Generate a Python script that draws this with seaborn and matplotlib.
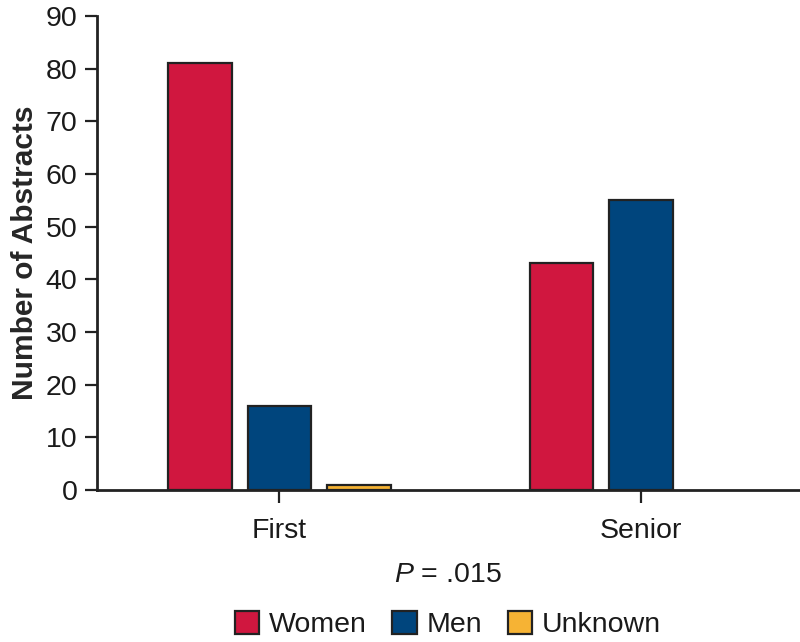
import pandas as pd
import numpy as np
import matplotlib
matplotlib.use('Agg')
import matplotlib.pyplot as plt
import seaborn as sns
from matplotlib.patches import Patch

# author position categories and counts per gender
positions = ['First', 'Senior']
genders = ['Women', 'Men', 'Unknown']
women = [81, 43]
men = [16, 55]
unknown = [1, 0]

colors = ['#D0173F', '#00457D', '#F6B334']

df = pd.DataFrame({
    'Position': positions * 3,
    'Gender': ['Women'] * 2 + ['Men'] * 2 + ['Unknown'] * 2,
    'Count': women + men + unknown,
})

sns.set_style('ticks')
plt.rcParams['font.family'] = ['Liberation Sans', 'DejaVu Sans']
plt.rcParams['mathtext.fontset'] = 'custom'
plt.rcParams['mathtext.it'] = 'Liberation Sans:italic'

fig = plt.figure(figsize=(8, 6.42), dpi=100)
ax = fig.add_axes([0.121, 0.237, 0.879, 0.738])

sns.barplot(data=df, x='Position', y='Count', hue='Gender',
            order=positions, hue_order=genders, palette=colors,
            width=0.66, gap=0.2, edgecolor='#222222', linewidth=1.6,
            saturation=1, ax=ax, legend=False)

# hide the empty bar
for p in ax.patches:
    if p.get_height() == 0:
        p.set_visible(False)

fs = 20.5
ax.set_xlim(-0.505, 1.44)
ax.set_ylim(0, 90)
ax.set_yticks(np.arange(0, 91, 10))
ax.set_ylabel('Number of Abstracts', fontsize=21.5, fontweight='bold', labelpad=5)
ax.set_xlabel('')
ax.tick_params(axis='both', labelsize=fs, length=9, width=1.6, color='#222222',
               labelcolor='#1a1a1a')
ax.tick_params(axis='y', pad=5)
ax.tick_params(axis='x', pad=11)
for s in ['left', 'bottom']:
    ax.spines[s].set_linewidth(2)
    ax.spines[s].set_color('#222222')
sns.despine(ax=ax)

fig.text(0.56, 0.104, r'$P$ = .015', ha='center', va='center', fontsize=fs,
         color='#1a1a1a')

handles = [Patch(facecolor=c, edgecolor='#222222', linewidth=1.6, label=g)
           for c, g in zip(colors, genders)]
fig.legend(handles=handles, loc='center', bbox_to_anchor=(0.56, 0.027), ncol=3,
           frameon=False, fontsize=fs, handlelength=0.85, handleheight=0.85,
           handletextpad=0.35, columnspacing=0.9, labelcolor='#1a1a1a')

fig.savefig('out.png', dpi=100)
